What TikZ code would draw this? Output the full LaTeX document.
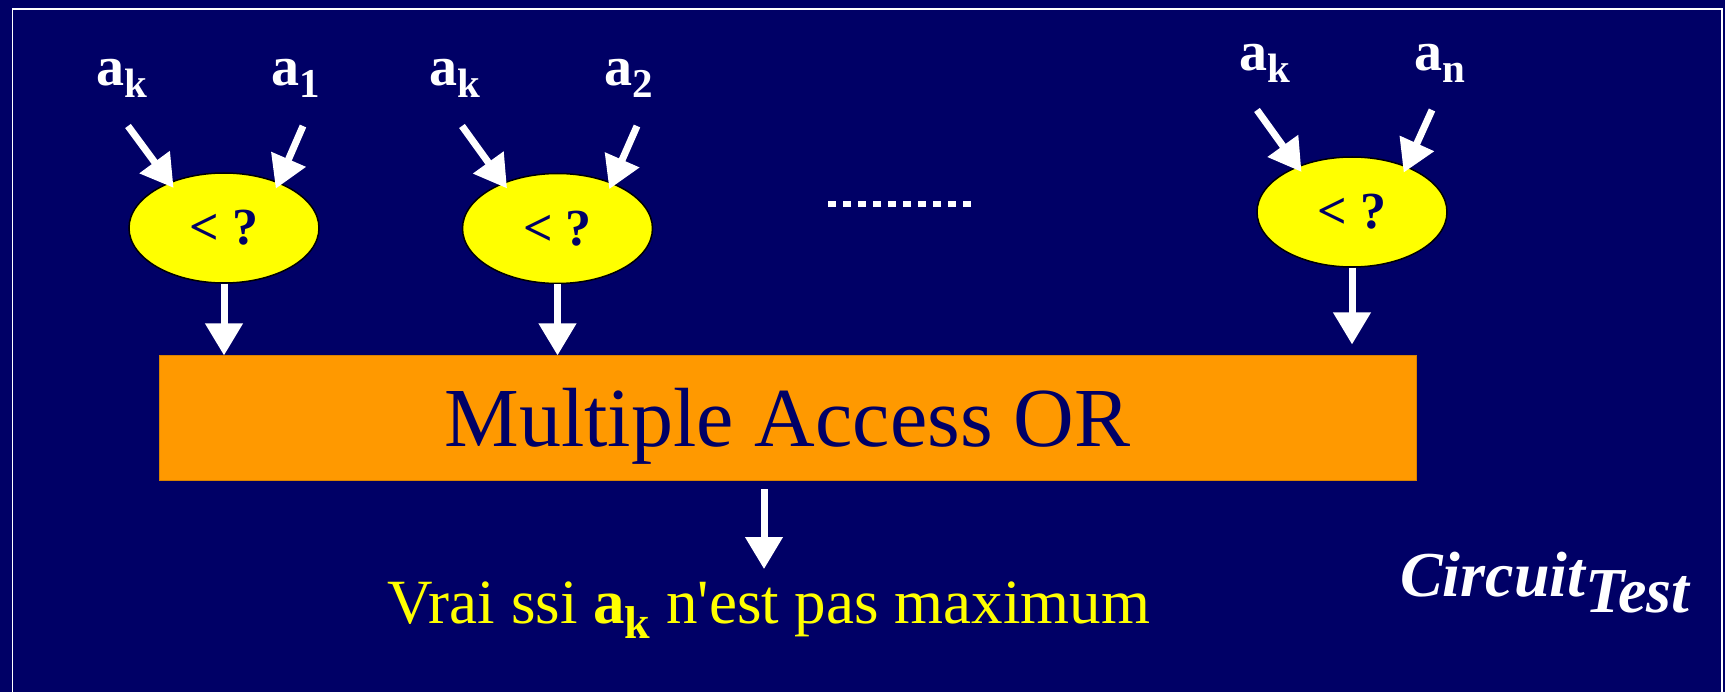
\documentclass[tikz,border=0pt]{standalone}
\usepackage{fontspec}
\setmainfont{Liberation Serif}
\usetikzlibrary{shapes.geometric,arrows.meta}

\definecolor{navy}{HTML}{000066}
\definecolor{slideyellow}{HTML}{FFFF00}
\definecolor{slideorange}{HTML}{FF9900}

% bold "a" with a lowered bold index: {main size}{index size}{drop}{index}
\newcommand{\aidx}[4]{{\fontsize{#1}{#1}\selectfont\bfseries a}\raisebox{-#3pt}{\fontsize{#2}{#2}\selectfont\bfseries #4}}

\begin{document}
\begin{tikzpicture}[x=1pt,y=-1pt,
  cmp/.style={ellipse, draw=black, line width=1.5pt, fill=slideyellow,
    minimum width=190pt, minimum height=110pt, inner sep=0pt, text=navy,
    font=\fontsize{52}{52}\selectfont\bfseries},
  lbl/.style={anchor=base west, inner sep=0pt, text=white},
  arr/.style={draw=white, line width=7pt, -{Triangle[width=36pt,length=32pt]}},
  inarr/.style={arr, shorten >=-7pt},
]
\useasboundingbox (0,0) rectangle (1725,692);
\fill[navy] (0,0) rectangle (1725,692);
\draw[white, line width=1.5pt] (12.5,700) -- (12.5,9) -- (1722,9) -- (1722,700);

% comparators
\node[cmp] (e1) at (224,228) {\raisebox{-5pt}{< ?}};
\node[cmp] (e2) at (557.5,228.5) {\raisebox{-5pt}{< ?}};
\node[cmp] (e3) at (1352,212) {\raisebox{-5pt}{< ?}};

% operand labels
\node[lbl] (k1) at (96,86)  {\aidx{56}{41}{12}{k}};
\node[lbl] (a1) at (271,86) {\aidx{56}{41}{12}{1}};
\node[lbl] (k2) at (429,86) {\aidx{56}{41}{12}{k}};
\node[lbl] (a2) at (604,86) {\aidx{56}{41}{12}{2}};
\node[lbl] (k3) at (1239,71) {\aidx{56}{41}{12}{k}};
\node[lbl] (a3) at (1414,71) {\aidx{56}{41}{12}{n}};

% operand arrow tails
\coordinate (s1k) at (128,126);
\coordinate (s1a) at (303,126);
\coordinate (s2k) at (462,126);
\coordinate (s2a) at (637,126);
\coordinate (s3k) at (1257,110);
\coordinate (s3a) at (1432,110);

\draw[inarr] (s1k) -- (e1.140);
\draw[inarr] (s1a) -- (e1.40);
\draw[inarr] (s2k) -- (e2.140);
\draw[inarr] (s2a) -- (e2.40);
\draw[inarr] (s3k) -- (e3.140);
\draw[inarr] (s3a) -- (e3.40);

% ellipsis between comparators
\coordinate (dotsL) at (828,204);
\coordinate (dotsR) at (971,204);
\draw[white, line width=6pt, dash pattern=on 8pt off 7pt] (dotsL) -- (dotsR);

% OR block
\node[rectangle, fill=slideorange, draw=slideorange!85!black, line width=1pt,
  minimum width=1257pt, minimum height=125pt, inner sep=0pt,
  text=navy, font=\fontsize{84}{84}\selectfont,
  text height=57pt, text depth=0pt] (box) at (787.5,418.5) {Multiple Access OR};

\draw[arr] (e1.south) -- (e1.south |- box.north);
\draw[arr] (e2.south) -- (e2.south |- box.north);
\draw[arr, shorten >=11pt] (e3.south) -- (e3.south |- box.north);

% result
\node[anchor=base west, inner sep=0pt, text=slideyellow,
  font=\fontsize{63}{63}\selectfont] (res) at (387,623)
  {Vrai ssi \aidx{63}{46}{15}{k} n\textquotesingle est pas maximum};
\coordinate (ox) at (764,0);
\draw[arr, shorten <=8pt, shorten >=12pt] (box.south -| ox) -- (res.north -| ox);

% caption
\node[lbl, font=\fontsize{64}{64}\selectfont\bfseries\itshape] (cap) at (1400,596)
  {Circuit\raisebox{-16pt}{Test}};
\end{tikzpicture}
\end{document}
